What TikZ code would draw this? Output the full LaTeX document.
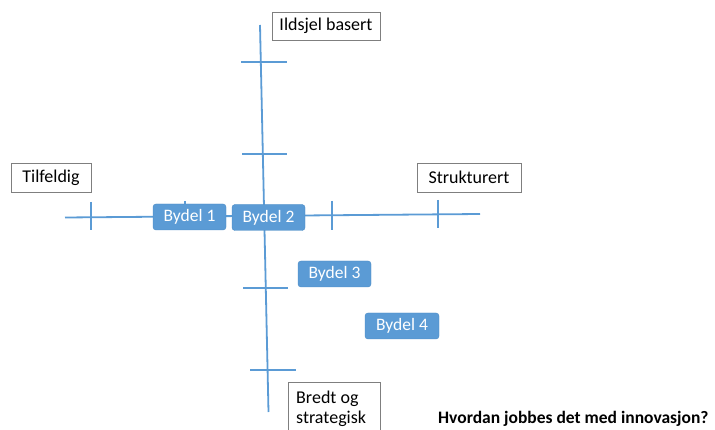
\documentclass[tikz,border=0pt]{standalone}
\usepackage{fontspec}
\setmainfont{Carlito}
\definecolor{axis}{HTML}{5B9BD5}
\definecolor{bydel}{HTML}{5B9BD5}
\definecolor{bydelline}{HTML}{4A8AC4}
\definecolor{lbl}{HTML}{7F7F7F}
\begin{document}
\begin{tikzpicture}[x=1pt,y=-1pt,
  axisline/.style={draw=axis,line width=1.8pt},
  bydelbox/.style={fill=bydel,draw=bydelline,line width=0.4pt,rounded corners=3pt,text=white,font=\fontsize{17.5}{20}\selectfont,minimum width=73pt,minimum height=26pt,inner sep=0pt},
  labelbox/.style={fill=white,draw=lbl,line width=0.8pt,text=black,font=\fontsize{18}{20}\selectfont,minimum height=29pt,inner sep=0pt}]
\useasboundingbox (0,0) rectangle (715,430);
\clip (0,0) rectangle (715,430);
% axes
\coordinate (vtop) at (260,25);
\coordinate (vbot) at (268.5,412);
\coordinate (hl) at (65,217.5);
\coordinate (hr) at (480,214);
\draw[axisline] (vtop) -- (vbot);
\draw[axisline] (hl) -- (hr);
% ticks on vertical axis
\coordinate (t1a) at (241,62); \coordinate (t1b) at (287,62);
\coordinate (t2a) at (242,154); \coordinate (t2b) at (287,154);
\coordinate (t3a) at (243,288); \coordinate (t3b) at (288,288);
\coordinate (t4a) at (250,370); \coordinate (t4b) at (296,370);
\draw[axisline] (t1a) -- (t1b);
\draw[axisline] (t2a) -- (t2b);
\draw[axisline] (t3a) -- (t3b);
\draw[axisline] (t4a) -- (t4b);
% ticks on horizontal axis
\coordinate (h1a) at (91,202); \coordinate (h1b) at (91,230);
\coordinate (h2a) at (185,201); \coordinate (h2b) at (185,215);
\coordinate (h3a) at (332,201); \coordinate (h3b) at (332,230);
\coordinate (h4a) at (438,200); \coordinate (h4b) at (438,228);
\draw[axisline] (h1a) -- (h1b);
\draw[axisline] (h2a) -- (h2b);
\draw[axisline] (h3a) -- (h3b);
\draw[axisline] (h4a) -- (h4b);
% bydel boxes
\node[bydelbox] (b1) at (189.5,217) {Bydel 1};
\node[bydelbox] (b2) at (268.5,217.5) {Bydel 2};
\node[bydelbox] (b3) at (334.5,274) {Bydel 3};
\node[bydelbox,minimum width=74pt] (b4) at (402,326) {Bydel 4};
% labels
\node[labelbox,minimum width=80pt] (tilf) at (51,177.5) {Tilfeldig};
\node[labelbox,minimum width=108pt,minimum height=28pt] (ilds) at (326,26) {Ildsjel basert};
\node[labelbox,minimum width=104pt] (strk) at (469,177.5) {Strukturert};
\node[labelbox,minimum width=92pt,minimum height=60pt,anchor=north west] (bred) at (288,382) {};
\node[anchor=base west,align=left,inner sep=0pt,font=\fontsize{18}{20}\selectfont] (bredtxt) at (296,423) {Bredt og\\strategisk};
% title
\node[anchor=base west,inner sep=0pt,font=\fontsize{17.5}{20}\selectfont\bfseries] (title) at (438,423) {Hvordan jobbes det med innovasjon?};
\end{tikzpicture}
\end{document}
